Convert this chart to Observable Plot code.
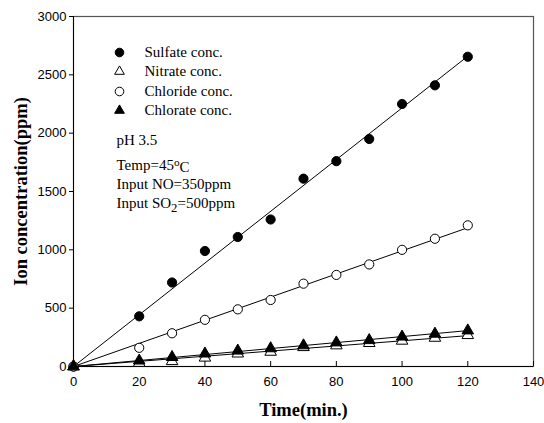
<!DOCTYPE html>
<html>
<head>
<meta charset="utf-8">
<script src="https://cdn.jsdelivr.net/npm/d3@7"></script>
<script src="https://cdn.jsdelivr.net/npm/@observablehq/plot@0.6"></script>
<style>
  body { margin: 0; background: #fff; }
  #chart svg { display: block; }
</style>
</head>
<body>
<div id="chart"></div>
<script>
const times = [0, 20, 30, 40, 50, 60, 70, 80, 90, 100, 110, 120];
const sulfate  = [0, 430, 720, 990, 1110, 1260, 1610, 1760, 1950, 2250, 2410, 2655];
const nitrate  = [0, 30, 45, 75, 110, 125, 165, 180, 200, 220, 245, 268];
const chloride = [0, 160, 285, 400, 490, 570, 710, 785, 875, 1000, 1095, 1210];
const chlorate = [0, 50, 80, 110, 135, 155, 180, 205, 225, 255, 280, 308];
const seriesNames = ["Sulfate conc.", "Nitrate conc.", "Chloride conc.", "Chlorate conc."];
const annotations = ["pH 3.5", "Temp=45oC", "Input NO=350ppm", "Input SO2=500ppm"];
const xTicks = [0, 20, 40, 60, 80, 100, 120, 140];
const yTicks = [0, 500, 1000, 1500, 2000, 2500, 3000];

const seriesDefs = [
  {name: seriesNames[0], values: sulfate,  symbol: "circle",   fill: "black"},
  {name: seriesNames[1], values: nitrate,  symbol: "triangle", fill: "white"},
  {name: seriesNames[2], values: chloride, symbol: "circle",   fill: "white"},
  {name: seriesNames[3], values: chlorate, symbol: "triangle", fill: "black"}
];

// fit lines through origin (least squares)
function fit(values) {
  const sxy = d3.sum(times, (t, i) => t * values[i]);
  const sxx = d3.sum(times, t => t * t);
  const k = sxy / sxx;
  return [{t: 0, v: 0}, {t: d3.max(times), v: k * d3.max(times)}];
}

const marks = [];
seriesDefs.forEach(s => {
  marks.push(Plot.line(fit(s.values), {x: "t", y: "v", stroke: "black", strokeWidth: 1}));
});
seriesDefs.forEach(s => {
  const data = times.map((t, i) => ({t, v: s.values[i]}));
  marks.push(Plot.dot(data, {x: "t", y: "v", symbol: s.symbol, r: s.symbol === "triangle" ? 4.3 : 4.6, fill: s.fill, stroke: "black", strokeWidth: 1}));
});

// legend inside the plot
const legendRows = [36, 55, 75, 94];
seriesDefs.forEach((s, i) => {
  marks.push(Plot.dot([s], {frameAnchor: "top-left", dx: 46, dy: legendRows[i], symbol: s.symbol, r: s.symbol === "triangle" ? 3.6 : 4.3, fill: s.fill, stroke: "black", strokeWidth: 1}));
  marks.push(Plot.text([s.name], {text: d => d, frameAnchor: "top-left", dx: 71, dy: legendRows[i], textAnchor: "start", lineAnchor: "middle", fontFamily: "Liberation Serif, serif", fontSize: 15, fill: "black"}));
});
const annRows = [124, 149, 168, 187];
annotations.forEach((a, i) => {
  marks.push(Plot.text([a], {text: d => d, frameAnchor: "top-left", dx: 43, dy: annRows[i], textAnchor: "start", lineAnchor: "middle", fontFamily: "Liberation Serif, serif", fontSize: 15, fill: "black"}));
});

const plot = Plot.plot({
  width: 544,
  height: 423,
  marginLeft: 73,
  marginRight: 11,
  marginTop: 16,
  marginBottom: 57,
  style: {background: "white", overflow: "visible"},
  x: {domain: [0, 140], ticks: xTicks},
  y: {domain: [0, 3000], ticks: yTicks},
  marks: [
    Plot.frame({stroke: "#555", strokeWidth: 1.2}),
    Plot.axisX({ticks: xTicks, tickFormat: d3.format("d"), tickSize: -5, tickPadding: 15, fontSize: 13, fontFamily: "Liberation Sans, Arial, sans-serif", label: "Time(min.)", labelAnchor: "center", labelArrow: "none", labelOffset: 49}),
    Plot.axisY({ticks: yTicks, tickFormat: d3.format("d"), tickSize: 4, tickPadding: 3, fontSize: 13, fontFamily: "Liberation Sans, Arial, sans-serif", label: "Ion concentration(ppm)", labelAnchor: "center", labelArrow: "none", labelOffset: 60}),
    Plot.ruleX([0], {stroke: "black"}),
    Plot.ruleY([0], {stroke: "black"}),
    ...marks
  ]
});

// style axis labels (bold serif) and tick colours
d3.select(plot).selectAll("g[aria-label='x-axis label'] text, g[aria-label='y-axis label'] text")
  .attr("font-family", "Liberation Serif, serif").attr("font-weight", "bold").attr("font-size", 18.5).attr("fill", "black");
d3.select(plot).selectAll("g[aria-label='x-axis tick label'], g[aria-label='y-axis tick label']").attr("fill", "black");
d3.select(plot).selectAll("g[aria-label='x-axis tick'], g[aria-label='y-axis tick']").attr("stroke", "black");

// superscript / subscript in annotations
d3.select(plot).selectAll("text").each(function() {
  const el = d3.select(this);
  const txt = el.text();
  if (txt === annotations[1]) {
    el.text("");
    el.append("tspan").text("Temp=45");
    el.append("tspan").attr("dy", "-0.4em").attr("font-size", "0.75em").text("o");
    el.append("tspan").attr("dy", "0.4em").text("C");
  } else if (txt === annotations[3]) {
    el.text("");
    el.append("tspan").text("Input SO");
    el.append("tspan").attr("dy", "0.3em").attr("font-size", "0.85em").text("2");
    el.append("tspan").attr("dy", "-0.3em").text("=500ppm");
  }
});

document.getElementById("chart").appendChild(plot);
</script>
</body>
</html>
